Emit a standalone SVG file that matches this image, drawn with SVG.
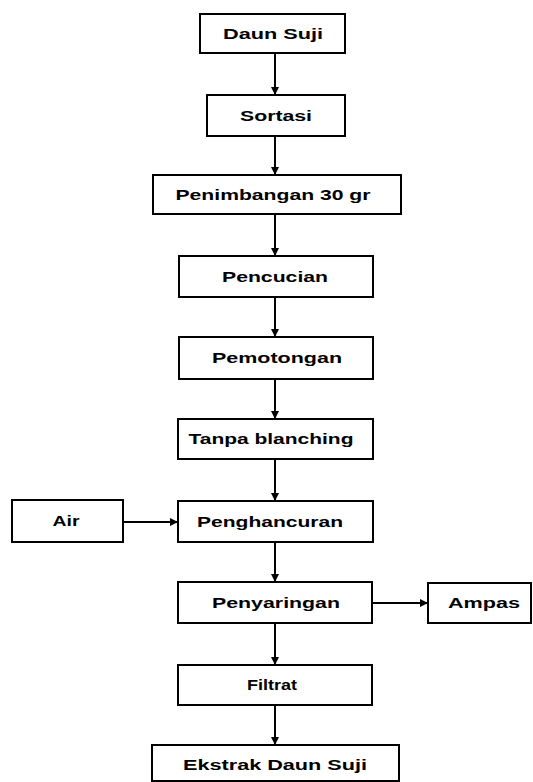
<svg xmlns="http://www.w3.org/2000/svg" width="533" height="782" viewBox="0 0 533 782">
<defs>
<style>
.box{fill:#fff;stroke:#000;stroke-width:2}
.t{font-family:"Liberation Sans",Arial,sans-serif;font-size:14px;font-weight:bold;fill:#000;text-anchor:middle}
.c{stroke:#000;stroke-width:2;fill:none}
</style>
<marker id="ah" viewBox="0 0 10 10" refX="10" refY="5" markerWidth="8" markerHeight="8" markerUnits="userSpaceOnUse" orient="auto">
<path d="M0,0 L10,5 L0,10 z" fill="#000"/>
</marker>
</defs>
<rect width="533" height="782" fill="#fff"/>
<g id="connectors">
<line class="c" x1="275" y1="53" x2="275" y2="95" marker-end="url(#ah)"/>
<line class="c" x1="275" y1="136" x2="275" y2="175" marker-end="url(#ah)"/>
<line class="c" x1="275" y1="214" x2="275" y2="256" marker-end="url(#ah)"/>
<line class="c" x1="275" y1="297" x2="275" y2="337" marker-end="url(#ah)"/>
<line class="c" x1="275" y1="379" x2="275" y2="419" marker-end="url(#ah)"/>
<line class="c" x1="275" y1="459" x2="275" y2="501" marker-end="url(#ah)"/>
<line class="c" x1="275" y1="542" x2="275" y2="582" marker-end="url(#ah)"/>
<line class="c" x1="275" y1="623" x2="275" y2="665" marker-end="url(#ah)"/>
<line class="c" x1="275" y1="705" x2="275" y2="745" marker-end="url(#ah)"/>
<line class="c" x1="123" y1="522" x2="178" y2="522" marker-end="url(#ah)"/>
<line class="c" x1="372" y1="603" x2="428" y2="603" marker-end="url(#ah)"/>
</g>
<g id="daun-suji"><rect class="box" x="200" y="14" width="145" height="39"/><text class="t" x="273" y="39" textLength="100" lengthAdjust="spacingAndGlyphs">Daun Suji</text></g>
<g id="sortasi"><rect class="box" x="207" y="95" width="138" height="41"/><text class="t" x="276" y="121" textLength="72" lengthAdjust="spacingAndGlyphs">Sortasi</text></g>
<g id="penimbangan"><rect class="box" x="153" y="175" width="248" height="39"/><text class="t" x="273" y="200" textLength="195" lengthAdjust="spacingAndGlyphs">Penimbangan 30 gr</text></g>
<g id="pencucian"><rect class="box" x="179" y="256" width="194" height="41"/><text class="t" x="275" y="282" textLength="106" lengthAdjust="spacingAndGlyphs">Pencucian</text></g>
<g id="pemotongan"><rect class="box" x="179" y="337" width="194" height="42"/><text class="t" x="277" y="363" textLength="130" lengthAdjust="spacingAndGlyphs">Pemotongan</text></g>
<g id="tanpa-blanching"><rect class="box" x="178" y="419" width="195" height="40"/><text class="t" x="271" y="444" textLength="165" lengthAdjust="spacingAndGlyphs">Tanpa blanching</text></g>
<g id="air"><rect class="box" x="12" y="500" width="111" height="42"/><text class="t" x="66" y="526" textLength="27" lengthAdjust="spacingAndGlyphs">Air</text></g>
<g id="penghancuran"><rect class="box" x="178" y="501" width="195" height="41"/><text class="t" x="270" y="527" textLength="146" lengthAdjust="spacingAndGlyphs">Penghancuran</text></g>
<g id="penyaringan"><rect class="box" x="178" y="582" width="194" height="41"/><text class="t" x="276" y="608" textLength="128" lengthAdjust="spacingAndGlyphs">Penyaringan</text></g>
<g id="ampas"><rect class="box" x="428" y="583" width="103" height="40"/><text class="t" x="484" y="608" textLength="72" lengthAdjust="spacingAndGlyphs">Ampas</text></g>
<g id="filtrat"><rect class="box" x="178" y="665" width="194" height="40"/><text class="t" x="272" y="690" textLength="50" lengthAdjust="spacingAndGlyphs">Filtrat</text></g>
<g id="ekstrak"><rect class="box" x="152" y="745" width="247" height="36"/><text class="t" x="275" y="770" textLength="184" lengthAdjust="spacingAndGlyphs">Ekstrak Daun Suji</text></g>
</svg>
